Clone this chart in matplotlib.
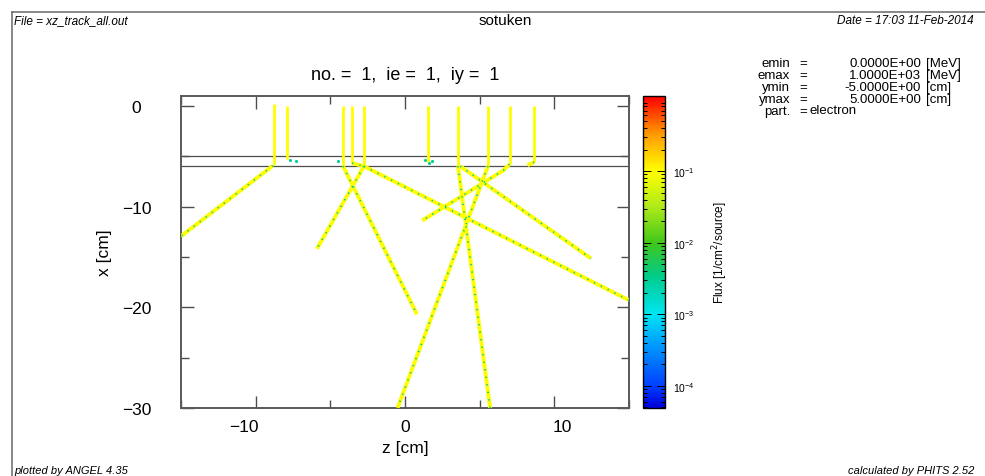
#!/usr/bin/env python3
# -*- coding: utf-8 -*-
"""
xz track plot (electron flux), ANGEL style
"""

import numpy as np
import matplotlib
matplotlib.use('Agg')
import matplotlib.pyplot as plt
import matplotlib.transforms as mtransforms
from matplotlib.colors import LinearSegmentedColormap, LogNorm
from matplotlib.cm import ScalarMappable
from matplotlib.ticker import MultipleLocator, LogLocator

plt.rcParams['font.family'] = ['Liberation Sans', 'DejaVu Sans']
plt.rcParams['axes.unicode_minus'] = True

# 垂直入射部分 (z, x上端, x下端)
vert_z = [-8.8, -7.9, -4.15, -3.55, -2.75, 1.55, 3.55, 5.55, 7.0, 8.65]
vert_top = [0.2, 0.0, 0.0, 0.0, 0.0, 0.0, 0.0, 0.0, 0.0, 0.0]
vert_bot = [-5.9, -5.3, -6.0, -5.7, -6.0, -5.6, -6.0, -6.0, -5.8, -5.6]

# 散乱後の飛跡 (z列, x列)
track_z = [
    [-8.85, -15.0],
    [-4.15, 0.8],
    [-2.75, -5.9],
    [-2.75, 15.0],
    [3.55, 5.7],
    [3.7, 12.45],
    [5.55, -0.5],
    [7.0, 6.6, 1.15],
    [-3.55, -2.75],
    [8.65, 8.2],
]
track_x = [
    [-5.95, -12.95],
    [-6.0, -20.7],
    [-6.0, -14.2],
    [-6.0, -19.3],
    [-6.0, -30.0],
    [-6.0, -15.15],
    [-6.0, -30.0],
    [-5.8, -6.4, -11.4],
    [-5.7, -6.0],
    [-5.6, -5.9],
]

# 端点付近の低フラックス点
spot_z = [-7.7, -7.3, -4.5, 1.35, 1.6, 1.8]
spot_x = [-5.35, -5.5, -5.5, -5.4, -5.7, -5.5]

# 境界 (x = -5, -6)
layer_x = [-5.0, -6.0]

track_flux = 0.1
spot_flux = 3e-3
flux_min, flux_max = 4.9e-5, 1.12

param_names = ['emin', 'emax', 'ymin', 'ymax', 'part.']
param_vals = ['0.0000E+00', '1.0000E+03', '-5.0000E+00', '5.0000E+00']
param_units = ['[MeV]', '[MeV]', '[cm]', '[cm]']
particle = 'electron'

W, H = 985, 477


def fx(px):
    return px / W


def fy(py):
    return 1 - py / H


cmap = LinearSegmentedColormap.from_list('angel', [
    (0.00, (0.0, 0.0, 0.85)),
    (0.07, (0.0, 0.25, 1.0)),
    (0.20, (0.0, 0.6, 1.0)),
    (0.30, (0.0, 0.9, 0.95)),
    (0.42, (0.0, 0.8, 0.55)),
    (0.53, (0.25, 0.78, 0.1)),
    (0.65, (0.7, 0.92, 0.1)),
    (0.76, (1.0, 1.0, 0.0)),
    (0.88, (1.0, 0.6, 0.0)),
    (1.00, (1.0, 0.0, 0.0)),
])
norm = LogNorm(flux_min, flux_max)
c_track = cmap(norm(track_flux))
c_spot = cmap(norm(spot_flux))

fig = plt.figure(figsize=(W / 100, H / 100), dpi=100)

# 外枠
fig.add_artist(plt.Line2D([fx(12), 1.0], [fy(13), fy(13)], color='0.45', lw=1.2))
fig.add_artist(plt.Line2D([fx(12), fx(12)], [fy(13), 0.0], color='0.45', lw=1.2))

fig.text(fx(14), fy(21), 'File = xz_track_all.out', fontsize=8.5, style='italic', va='center')
fig.text(fx(837), fy(21), 'Date = 17:03 11-Feb-2014', fontsize=8.5, style='italic', va='center')
fig.text(fx(505), fy(21), 'sotuken', fontsize=11, ha='center', va='center')
fig.text(fx(14), fy(466), 'plotted by ANGEL 4.35', fontsize=8, style='italic', va='top')
fig.text(fx(848), fy(466), 'calculated by PHITS 2.52', fontsize=8, style='italic', va='top')

ax = fig.add_axes([fx(181), fy(409), (629 - 181) / W, (409 - 97) / H])

for z, x0, x1 in zip(vert_z, vert_top, vert_bot):
    ax.plot([z, z], [x0, x1], color=c_track, lw=2.0, solid_capstyle='butt', zorder=3)

for zs, xs in zip(track_z, track_x):
    ax.plot(zs, xs, color=c_track, lw=2.8, solid_capstyle='butt', zorder=3)
    ax.plot(zs, xs, color=c_spot, lw=1.3, ls=(0, (0.7, 3.5)), zorder=4)

ax.scatter(spot_z, spot_x, s=5, color=c_spot, zorder=5, linewidths=0)

for xl in layer_x:
    ax.axhline(xl, color='0.3', lw=0.9, zorder=2)

ax.set_xlim(-15, 15)
ax.set_ylim(-30, 0.97)
ax.xaxis.set_major_locator(MultipleLocator(10))
ax.xaxis.set_minor_locator(MultipleLocator(5))
ax.yaxis.set_major_locator(MultipleLocator(10))
ax.yaxis.set_minor_locator(MultipleLocator(5))
ax.tick_params(which='both', direction='in', top=True, right=True,
               color='0.3', labelsize=12.5, width=1.0)
ax.tick_params(which='major', length=9)
ax.tick_params(axis='x', which='major', pad=8)
ax.tick_params(axis='y', which='major', pad=32)
ax.tick_params(which='minor', length=6)
for lab in ax.get_yticklabels():
    lab.set_horizontalalignment('center')
for sp in ax.spines.values():
    sp.set_color('0.35')
    sp.set_linewidth(1.4)

ax.set_xlabel('z [cm]', fontsize=12.5, va='center')
ax.set_ylabel('x [cm]', fontsize=12.5, va='center')
ax.xaxis.set_label_coords(0.5, -(449 - 409) / 312)
ax.yaxis.set_label_coords((105 - 181) / 448, 0.5)
ax.set_title('no. =  1,  ie =  1,  iy =  1', fontsize=13, pad=12)

# カラーバー
cax = fig.add_axes([fx(643), fy(409), 22 / W, (409 - 97) / H])
sm = ScalarMappable(norm=norm, cmap=cmap)
cb = fig.colorbar(sm, cax=cax)
cb.set_ticks([1e-4, 1e-3, 1e-2, 1e-1])
cax.yaxis.set_minor_locator(LogLocator(base=10, subs=np.arange(2, 10)))
cax.tick_params(which='both', direction='in', left=True, right=True, color='k', width=0.7)
cax.tick_params(which='major', length=6, labelsize=7.5, pad=6)
cax.tick_params(which='minor', length=3)
cb.outline.set_linewidth(1.0)
cb.set_label('Flux [1/cm$^2$/source]', fontsize=8.5, labelpad=11)

# パラメータ表示 (列ごとに1つのテキスト)
fs, lsp = 9.5, 0.99
top = 58
fig.text(fx(790), fy(top), '\n'.join(param_names), fontsize=fs, linespacing=lsp,
         ha='right', va='top', multialignment='right')
fig.text(fx(803), fy(top), '\n'.join(['='] * len(param_names)), fontsize=fs,
         linespacing=lsp, ha='center', va='top')
fig.text(fx(921), fy(top), '\n'.join(param_vals), fontsize=fs, linespacing=lsp,
         ha='right', va='top', multialignment='right')
fig.text(fx(926), fy(top), '\n'.join(param_units), fontsize=fs, linespacing=lsp,
         ha='left', va='top')
fig.text(fx(810), fy(110.5), particle, fontsize=fs, ha='left', va='center')

fig.canvas.draw()
# 元図のx目盛ラベルは少し外側にずれている
shift = {-10: -12, 10: 8}
for tick in ax.xaxis.get_major_ticks():
    dx = shift.get(int(round(tick.get_loc())), 0)
    if dx:
        tick.label1.set_transform(tick.label1.get_transform() +
                                  mtransforms.ScaledTranslation(dx / 100, 0, fig.dpi_scale_trans))

plt.savefig('out.png', dpi=100)
